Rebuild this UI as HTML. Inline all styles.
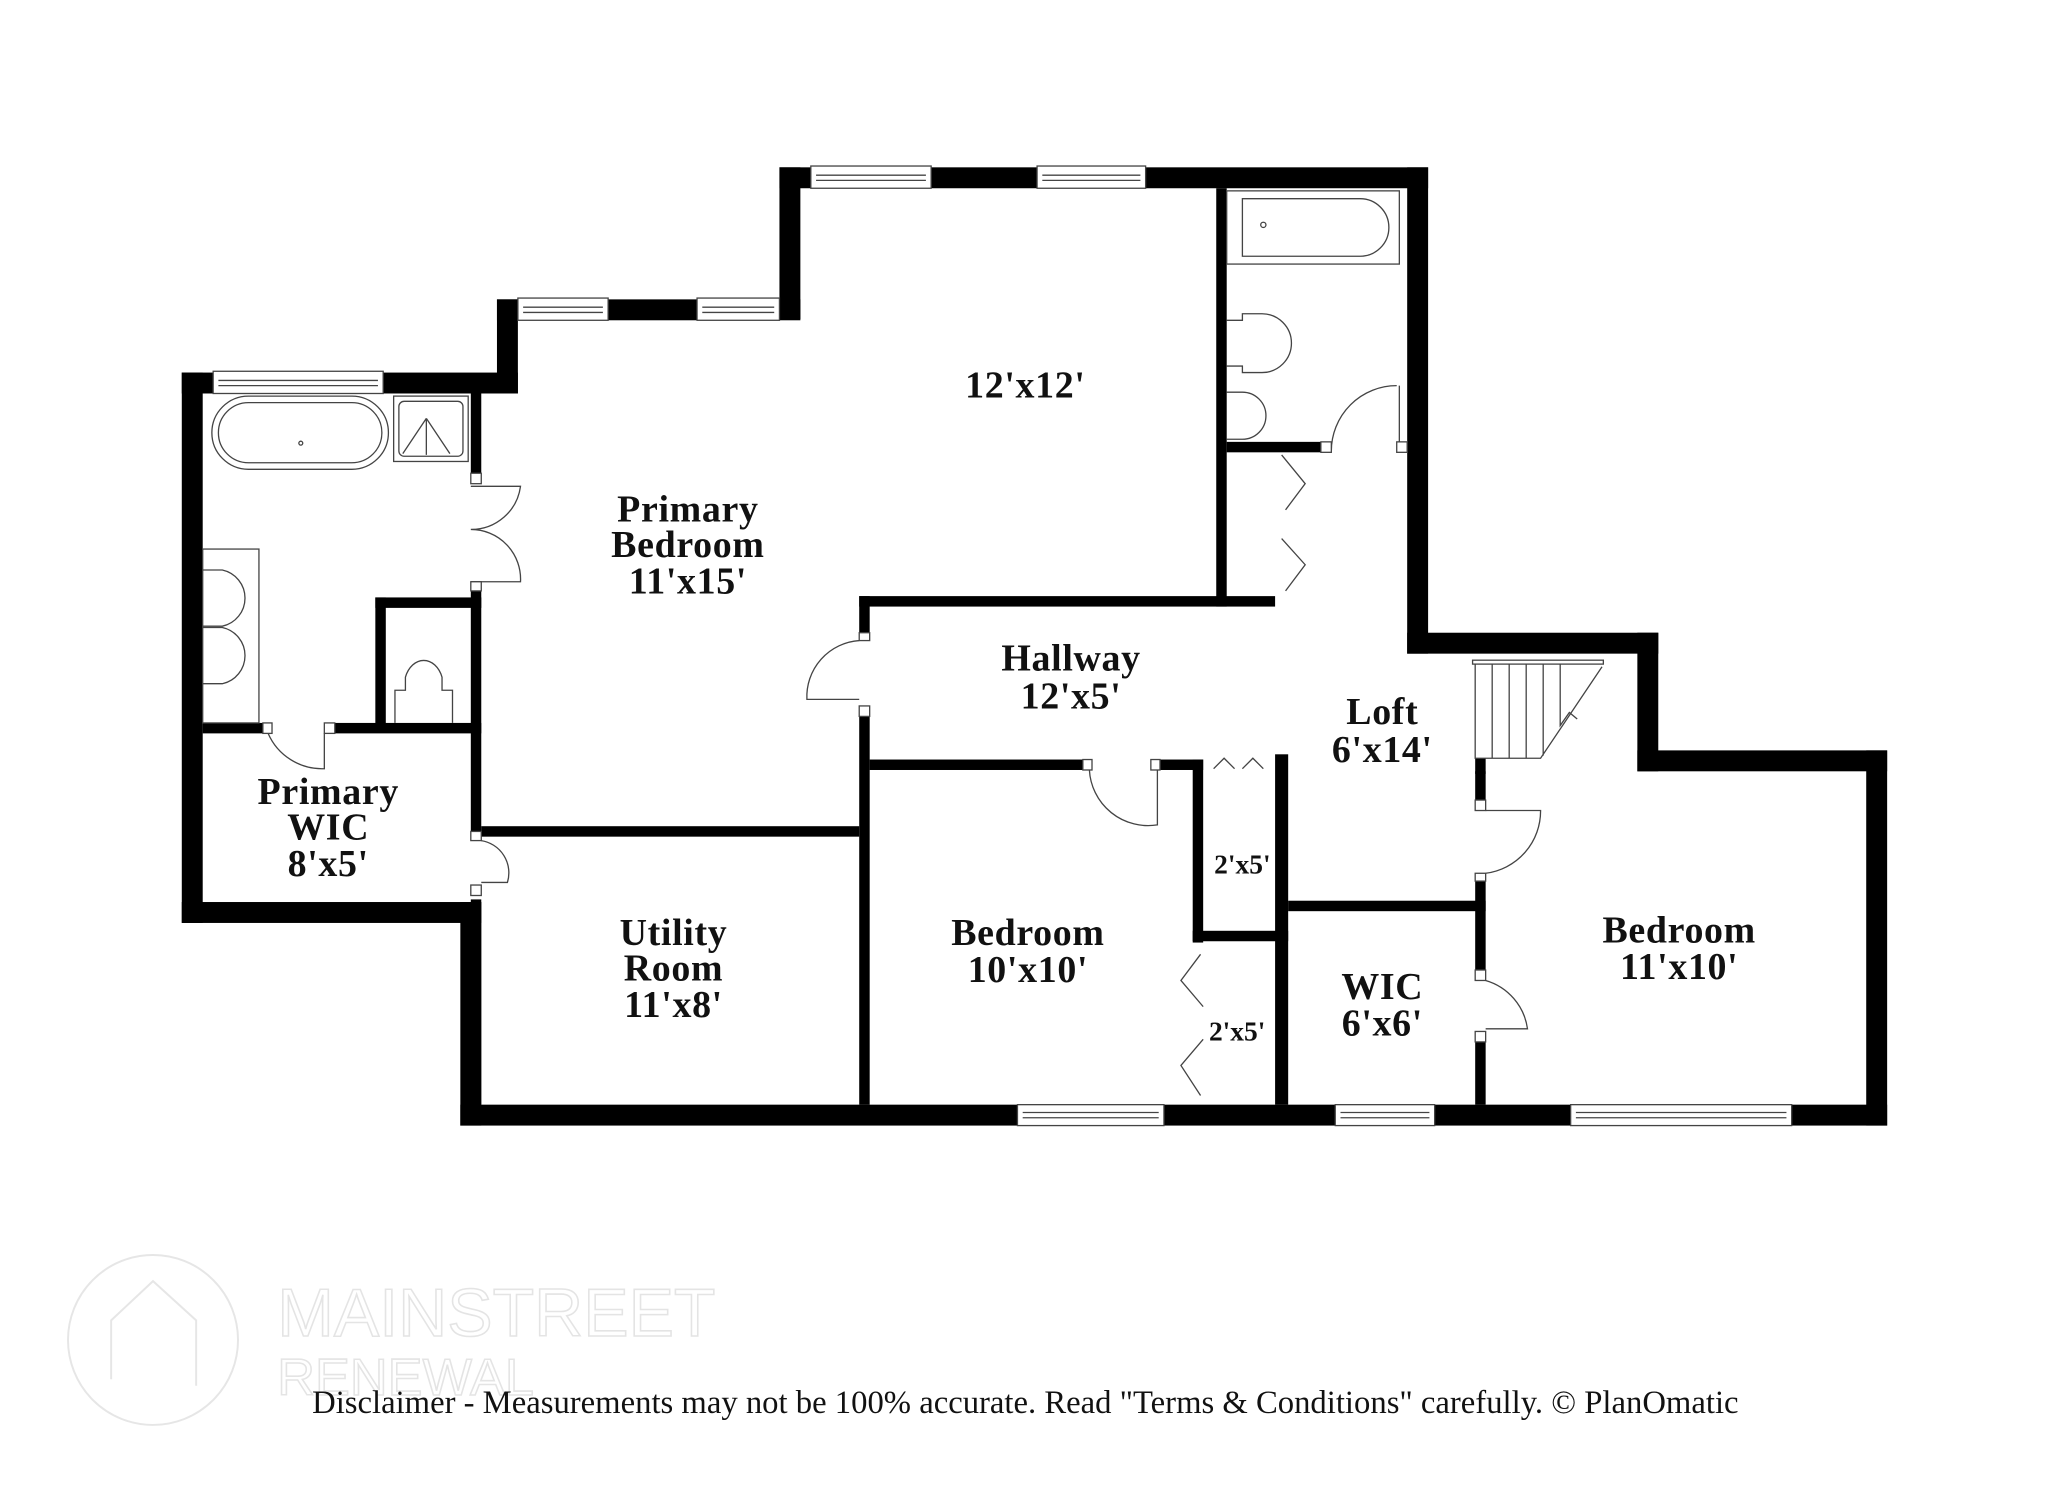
<!DOCTYPE html>
<html><head><meta charset="utf-8"><style>
html,body{margin:0;padding:0;background:#fff;}
svg{display:block;}
.l{font-family:"Liberation Serif",serif;font-weight:bold;font-size:29px;text-anchor:middle;fill:#111;letter-spacing:0.5px;}
.s{font-family:"Liberation Serif",serif;font-weight:bold;font-size:21px;text-anchor:middle;fill:#111;}
</style></head><body>
<svg width="2048" height="1489" viewBox="0 0 1566 1139" preserveAspectRatio="none" xmlns="http://www.w3.org/2000/svg">
<rect width="1566" height="1139" fill="#fff"/>
<g fill="none" stroke="#e6e6e6" stroke-width="1.5">
<circle cx="117" cy="1025" r="65"/>
<path d="M85 1055 L85 1010 L117 980 L150 1010 L150 1060"/>
</g>
<text x="212" y="1022" font-family="Liberation Sans,sans-serif" font-size="52" fill="none" stroke="#e4e4e4" stroke-width="1.2">MAINSTREET</text>
<text x="212" y="1067" font-family="Liberation Sans,sans-serif" font-size="40" fill="none" stroke="#e4e4e4" stroke-width="1.2">RENEWAL</text>
<text x="784" y="1081" font-family="Liberation Serif,serif" font-size="25" text-anchor="middle" fill="#111">Disclaimer - Measurements may not be 100% accurate. Read "Terms &amp; Conditions" carefully. © PlanOmatic</text>

<g fill="#000">
<rect x="139" y="285" width="257" height="16"/>
<rect x="139" y="285" width="16" height="421"/>
<rect x="139" y="690" width="229" height="16"/>
<rect x="352" y="690" width="16" height="171"/>
<rect x="352" y="845" width="1091" height="16"/>
<rect x="1427" y="574" width="16" height="287"/>
<rect x="1252" y="574" width="191" height="16"/>
<rect x="1252" y="484" width="16" height="106"/>
<rect x="1076" y="484" width="192" height="16"/>
<rect x="1076" y="128" width="16" height="372"/>
<rect x="596" y="128" width="496" height="16"/>
<rect x="596" y="128" width="16" height="116"/>
<rect x="380" y="229" width="232" height="16"/>
<rect x="380" y="229" width="16" height="72"/>
<rect x="930" y="144" width="8" height="320"/>
<rect x="657" y="456" width="318" height="8"/>
<rect x="938" y="338" width="72" height="8"/>
<rect x="657" y="456" width="8" height="28"/>
<rect x="657" y="548" width="8" height="297"/>
<rect x="665" y="581" width="163" height="8"/>
<rect x="887" y="581" width="33" height="8"/>
<rect x="912" y="581" width="8" height="140"/>
<rect x="912" y="712" width="73" height="8"/>
<rect x="975" y="577" width="10" height="268"/>
<rect x="985" y="689" width="151" height="8"/>
<rect x="1128" y="590" width="8" height="22"/>
<rect x="1128" y="672" width="8" height="70"/>
<rect x="1128" y="797" width="8" height="48"/>
<rect x="1128" y="580" width="8" height="12"/>
<rect x="360" y="300" width="8" height="62"/>
<rect x="360" y="452" width="8" height="190"/>
<rect x="360" y="688" width="8" height="157"/>
<rect x="368" y="632" width="289" height="8"/>
<rect x="287" y="457" width="81" height="8"/>
<rect x="287" y="457" width="8" height="100"/>
<rect x="155" y="553" width="46" height="8"/>
<rect x="256" y="553" width="112" height="8"/>
</g>

<g fill="#fff" stroke="#444" stroke-width="1">
<rect x="620" y="127" width="92" height="17"/><line x1="624" y1="134" x2="708" y2="134"/><line x1="624" y1="138" x2="708" y2="138"/>
<rect x="793" y="127" width="83" height="17"/><line x1="797" y1="134" x2="872" y2="134"/><line x1="797" y1="138" x2="872" y2="138"/>
<rect x="396" y="228" width="69" height="17"/><line x1="400" y1="235" x2="461" y2="235"/><line x1="400" y1="239" x2="461" y2="239"/>
<rect x="533" y="228" width="63" height="17"/><line x1="537" y1="235" x2="592" y2="235"/><line x1="537" y1="239" x2="592" y2="239"/>
<rect x="163" y="284" width="130" height="17"/><line x1="167" y1="291" x2="289" y2="291"/><line x1="167" y1="295" x2="289" y2="295"/>
<rect x="778" y="845" width="112" height="16"/><line x1="782" y1="851" x2="886" y2="851"/><line x1="782" y1="855" x2="886" y2="855"/>
<rect x="1021" y="845" width="76" height="16"/><line x1="1025" y1="851" x2="1093" y2="851"/><line x1="1025" y1="855" x2="1093" y2="855"/>
<rect x="1201" y="845" width="169" height="16"/><line x1="1205" y1="851" x2="1366" y2="851"/><line x1="1205" y1="855" x2="1366" y2="855"/>
</g>

<g fill="none" stroke="#444" stroke-width="1">
<path d="M360 372 L398 372 A38 38 0 0 1 360 405 A38 38 0 0 1 398 445 L360 445"/>
<path d="M657 490 A43 43 0 0 0 617 535 L657 535"/>
<path d="M248 561 L248 588 A45 45 0 0 1 205 561"/>
<path d="M368 643 A25 25 0 0 1 388 675 L368 675"/>
<path d="M885 589 L885 631 A45 45 0 0 1 833 589"/>
<path d="M1070 295 L1070 345 M1068 295 A50 50 0 0 0 1018 345"/>
<path d="M1136 620 L1178 620 A48 48 0 0 1 1136 668"/>
<path d="M1136 750 A45 45 0 0 1 1168 787 L1136 787"/>
<path d="M980 348 L998 370 L983 390 M980 412 L998 432 L983 452"/>
<path d="M918 730 L903 750 L920 770 M920 795 L903 815 L918 838"/>
<path d="M928 588 L936 580 L944 588 M950 588 L958 580 L966 588"/>
<rect x="938" y="146" width="132" height="56"/>
<path d="M950 152 L1040 152 A22 22 0 0 1 1040 196 L950 196 Z"/>
<circle cx="966" cy="172" r="2"/>
<path d="M938 245 L950 245 L950 240 L965 240 A22 22 0 0 1 965 285 L950 285 L950 280 L938 280"/>
<path d="M938 300 L950 300 A18 18 0 0 1 950 336 L938 336"/>
<rect x="162" y="303" width="135" height="56" rx="28"/>
<rect x="167" y="308" width="125" height="46" rx="23"/>
<circle cx="230" cy="339" r="1.5"/>
<rect x="301" y="303" width="57" height="50"/>
<rect x="305" y="307" width="49" height="42" rx="4"/>
<path d="M326 320 L308 347 M326 320 L344 347 M326 320 L326 348"/>
<rect x="155" y="420" width="43" height="133"/>
<path d="M155 436 L170 436 A22 22 0 0 1 170 479 L155 479"/>
<path d="M155 480 L170 480 A22 22 0 0 1 170 523 L155 523"/>
<path d="M302 553 L302 528 L310 528 L310 518 A15 20 0 0 1 338 518 L338 528 L346 528 L346 553"/>
<rect x="1126" y="505" width="100" height="3"/>
<path d="M1128 508 L1128 580 L1178 580 L1225 510 M1141 508 L1141 580 M1154 508 L1154 580 M1167 508 L1167 580 M1180 508 L1180 578 M1193 508 L1193 555 L1200 545 L1206 550"/>
</g>
<g fill="#fff" stroke="#444" stroke-width="1">
<rect x="360" y="362" width="8" height="8"/><rect x="360" y="445" width="8" height="7"/>
<rect x="657" y="484" width="8" height="6"/><rect x="657" y="540" width="8" height="8"/>
<rect x="201" y="553" width="7" height="8"/><rect x="248" y="553" width="8" height="8"/>
<rect x="828" y="581" width="7" height="8"/><rect x="880" y="581" width="7" height="8"/>
<rect x="1128" y="612" width="8" height="8"/><rect x="1128" y="668" width="8" height="6"/>
<rect x="1128" y="742" width="8" height="8"/><rect x="1128" y="789" width="8" height="8"/>
<rect x="1010" y="338" width="8" height="8"/><rect x="1068" y="338" width="8" height="8"/>
<rect x="360" y="636" width="8" height="7"/><rect x="360" y="677" width="8" height="8"/>
</g>

<text class="l" x="526" y="399">Primary</text>
<text class="l" x="526" y="426">Bedroom</text>
<text class="l" x="526" y="454">11'x15'</text>
<text class="l" x="784" y="304">12'x12'</text>
<text class="l" x="819" y="513">Hallway</text>
<text class="l" x="819" y="542">12'x5'</text>
<text class="l" x="1057" y="554">Loft</text>
<text class="l" x="1057" y="583">6'x14'</text>
<text class="l" x="251" y="615">Primary</text>
<text class="l" x="251" y="642">WIC</text>
<text class="l" x="251" y="670">8'x5'</text>
<text class="l" x="515" y="723">Utility</text>
<text class="l" x="515" y="750">Room</text>
<text class="l" x="515" y="778">11'x8'</text>
<text class="l" x="786" y="723">Bedroom</text>
<text class="l" x="786" y="751">10'x10'</text>
<text class="l" x="1057" y="764">WIC</text>
<text class="l" x="1057" y="792">6'x6'</text>
<text class="l" x="1284" y="721">Bedroom</text>
<text class="l" x="1284" y="749">11'x10'</text>
<text class="s" x="950" y="668">2'x5'</text>
<text class="s" x="946" y="796">2'x5'</text>
</svg>
</body></html>
